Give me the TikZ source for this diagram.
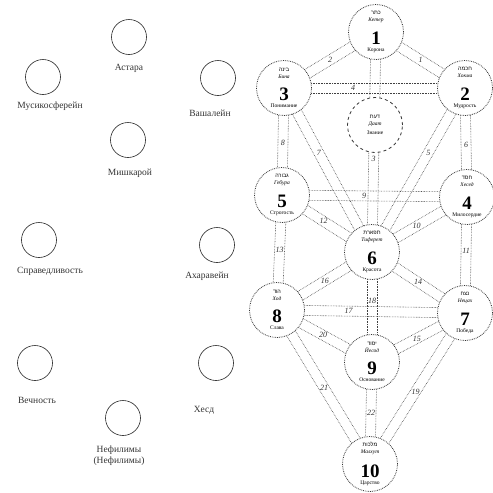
\documentclass[tikz,border=0pt]{standalone}
\usepackage{fontspec}
\setmainfont{Liberation Serif}
\newfontfamily\hebfont[Script=Hebrew]{Liberation Sans}
\TeXXeTstate=1
\newcommand\heb[1]{{\hebfont\beginR #1\endR}}
\newcommand\cifra[1]{{\fontsize{19}{19}\selectfont\bfseries #1}}
\usetikzlibrary{positioning,calc,backgrounds}
\tikzset{
	%estils de l'arbre
	sef/.style = {circle, draw=black!80, densely dotted, thick, fill=white,
                           minimum size=55pt, inner sep=0pt, align=center,
                           font=\fontsize{5.5}{6}\selectfont},
	daat/.style = {sef, dashed},
	orb/.style = {circle, draw=black!85, semithick, minimum size=35pt, inner sep=0pt},
	etiq/.style = {font=\fontsize{9.5}{11}\selectfont, text=black!80, align=center},
	canal/.style = {draw=black!75, densely dotted, semithick},
	num/.style = {font=\fontsize{8}{8}\selectfont\itshape, text=black!80, inner sep=0.5pt}
}

\begin{document}
\begin{tikzpicture}[x=1pt, y=-1pt]
	\useasboundingbox (0,0) rectangle (493,493);
	%cercles de l'esquerra
	\node[orb] (a1) at (129,37) {};
	\node[orb] (a2) at (43,77) {};
	\node[orb] (a3) at (218,78) {};
	\node[orb] (a4) at (128,140) {};
	\node[orb] (a5) at (39,240) {};
	\node[orb] (a6) at (217,245) {};
	\node[orb] (a7) at (35,363) {};
	\node[orb] (a8) at (216,363) {};
	\node[orb] (a9) at (123,418) {};
	%etiquetes
	\node[etiq] (e1) at (129,68) {Астара};
	\node[etiq] (e2) at (50,106) {Мусикосферейн};
	\node[etiq] (e3) at (210,113) {Вашалейн};
	\node[etiq] (e4) at (130,173) {Мишкарой};
	\node[etiq] (e5) at (50,271) {Справедливость};
	\node[etiq] (e6) at (207,276) {Ахаравейн};
	\node[etiq] (e7) at (37,400) {Вечность};
	\node[etiq] (e8) at (204,410) {Хесд};
	\node[etiq] (e9) at (119,456) {Нефилимы\\(Нефилимы)};
	%sefirot
	\node[sef] (1)  at (376,32)  {\heb{כתר}\\[1pt]\textit{Кетер}\\[9pt]\cifra{1}\\[1pt]Корона};
	\node[sef] (2)  at (465,88)  {\heb{חכמה}\\[1pt]\textit{Хокма}\\[9pt]\cifra{2}\\[1pt]Мудрость};
	\node[sef] (3)  at (284,88)  {\heb{בינה}\\[1pt]\textit{Бина}\\[9pt]\cifra{3}\\[1pt]Понимание};
	\node[daat] (d) at (375,125) {\heb{דעת}\\[1pt]\textit{Даат}\\[3pt]Знание};
	\node[sef] (4)  at (467,197) {\heb{חסד}\\[1pt]\textit{Хесед}\\[9pt]\cifra{4}\\[1pt]Милосердие};
	\node[sef] (5)  at (282,195) {\heb{גבורה}\\[1pt]\textit{Гебура}\\[9pt]\cifra{5}\\[1pt]Строгость};
	\node[sef] (6)  at (372,252) {\heb{תפארת}\\[1pt]\textit{Тиферет}\\[9pt]\cifra{6}\\[1pt]Красота};
	\node[sef] (7)  at (465,313) {\heb{נצח}\\[1pt]\textit{Нецах}\\[9pt]\cifra{7}\\[1pt]Победа};
	\node[sef] (8)  at (277,310) {\heb{הוד}\\[1pt]\textit{Ход}\\[9pt]\cifra{8}\\[1pt]Слава};
	\node[sef] (9)  at (372,362) {\heb{יסוד}\\[1pt]\textit{Йесод}\\[9pt]\cifra{9}\\[1pt]Основание};
	\node[sef] (10) at (370,464) {\heb{מלכות}\\[1pt]\textit{Малхут}\\[9pt]\cifra{10}\\[1pt]Царство};
	%canals
	\begin{scope}[on background layer]
	\foreach \a/\b/\n/\p in {1/2/1/0.5, 1/3/2/0.5, 1/6/3/0.6, 3/2/4/0.33,
	                         2/6/5/0.35, 2/4/6/0.54, 3/6/7/0.35, 3/5/8/0.52,
	                         5/4/9/0.42, 4/6/10/0.56, 4/7/11/0.43, 5/6/12/0.42,
	                         5/8/13/0.45, 6/7/14/0.49, 7/9/15/0.54, 6/8/16/0.49,
	                         8/7/17/0.33, 6/9/18/0.38, 7/10/19/0.53, 8/9/20/0.47,
	                         8/10/21/0.51, 9/10/22/0.5} {
		\draw[canal] ($(\a)!5pt!90:(\b)$) -- ($(\b)!5pt!-90:(\a)$);
		\draw[canal] ($(\a)!5pt!-90:(\b)$) -- ($(\b)!5pt!90:(\a)$);
		\path (\a) -- node[num, pos=\p] {\n} (\b);
	}
	\end{scope}
\end{tikzpicture}
\end{document}
